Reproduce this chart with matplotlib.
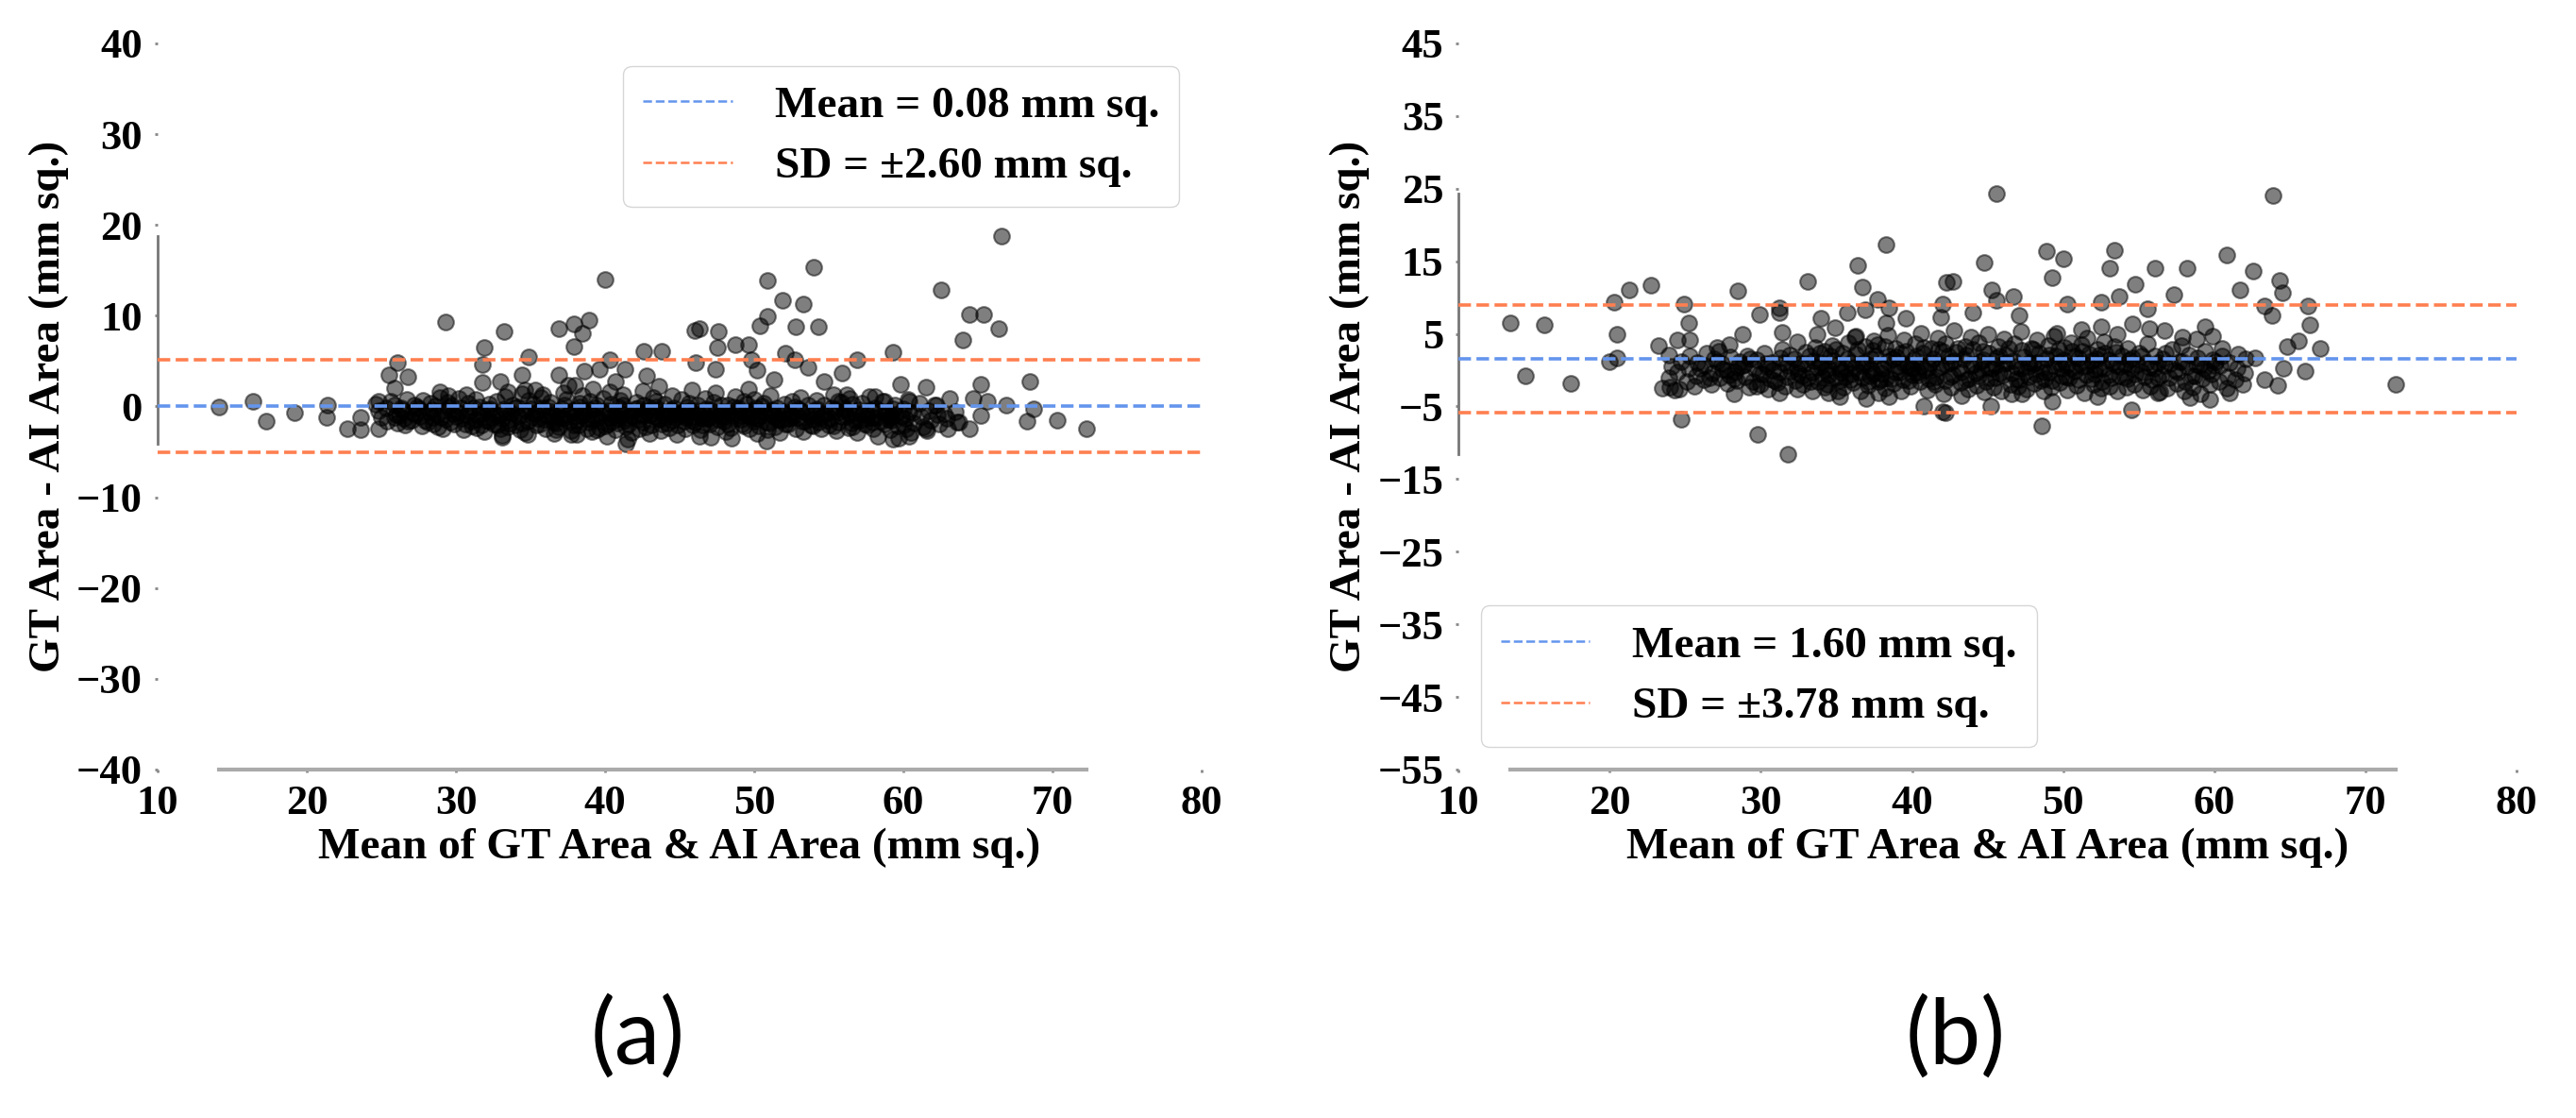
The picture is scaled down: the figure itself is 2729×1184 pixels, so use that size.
import numpy as np
import matplotlib
matplotlib.use('Agg')
import matplotlib.pyplot as plt

plt.rcParams['font.family'] = ['Liberation Serif', 'DejaVu Serif']
plt.rcParams['font.weight'] = 'bold'
plt.rcParams['axes.labelweight'] = 'bold'

# Bland-Altman summary values
mean_diff_a = 0.08
sd_a = 2.60
mean_diff_b = 1.60
sd_b = 3.78

# (a) points: (mean of areas, difference)
out_a = [(14.1, -0.1), (16.4, 0.6), (17.3, -1.6), (19.2, -0.7), (21.4, 0.1), (21.3, -1.2),
         (22.7, -2.5), (23.6, -2.6), (23.6, -1.2), (24.8, -2.5), (24.8, 0.6), (26.1, 4.8),
         (25.5, 3.5), (26.8, 3.3), (25.9, 2.0), (25.9, -1.2), (29.3, 9.3), (33.2, 8.3),
         (31.9, 6.5), (31.8, 4.6), (31.8, 2.6), (33.0, 2.8), (34.9, 5.5), (34.4, 3.5),
         (36.9, 8.6), (37.9, 9.1), (38.9, 9.5), (38.5, 8.1), (37.9, 6.6), (40.0, 14.0),
         (36.9, 3.5), (42.6, 6.1), (40.3, 5.1), (33.1, -3.4), (41.4, -4.1), (34.6, 1.8),
         (35.8, 1.3), (30.7, 1.3), (28.9, 1.6), (29.5, 1.2), (33.5, 1.6), (38.6, 3.9),
         (39.6, 4.1), (41.3, 4.1), (40.7, 2.7), (42.8, 3.4), (38.0, 2.3), (39.4, -2.6),
         (36.7, -2.6), (37.7, -3.1), (34.8, -3.1),
         (66.6, 18.8), (54.0, 15.3), (50.9, 13.9), (62.5, 12.8), (51.9, 11.7), (53.3, 11.3),
         (64.4, 10.1), (65.4, 10.1), (66.4, 8.6), (64.0, 7.3), (50.9, 9.9), (50.4, 8.9),
         (52.8, 8.8), (54.3, 8.8), (46.3, 8.6), (46.0, 8.4), (47.6, 8.3), (47.5, 6.5),
         (48.7, 6.8), (49.6, 6.8), (43.8, 6.1), (46.1, 4.8), (47.4, 4.1), (49.8, 5.1),
         (50.2, 4.0), (52.1, 5.9), (52.7, 5.1), (53.6, 4.3), (56.9, 5.1), (59.3, 6.0),
         (54.7, 2.7), (55.9, 3.7), (51.3, 3.0), (68.5, 2.8), (65.2, 2.4), (59.8, 2.4),
         (61.5, 2.1), (63.1, 0.9), (64.7, 0.9), (65.6, 0.6), (66.9, 0.2), (68.7, -0.3),
         (65.2, -1.0), (68.3, -1.6), (70.3, -1.5), (72.3, -2.4), (64.4, -2.4), (63.7, -1.7),
         (59.3, -3.6), (60.4, -3.3), (61.5, -2.4), (50.8, -3.8), (47.1, -3.4), (56.6, -2.2),
         (55.6, 0.6), (56.2, 1.3), (58.1, 1.1), (58.7, 0.6), (62.1, 0.2), (62.7, -0.8),
         (60.4, 0.6), (59.1, -1.2), (57.9, -1.7)]

core_a = [(24.8, -0.5), (24.6, 0.3), (25.0, -1.2), (25.4, -1.6), (25.3, -0.2), (25.6, 0.6),
          (26.0, -0.9), (26.1, -1.8), (25.9, 0.1), (26.5, -1.3), (26.4, -0.4), (26.7, 0.8),
          (26.6, -2.0), (27.1, -0.7), (27.0, -1.5), (27.2, 0.2), (27.6, -1.1), (27.7, -2.1),
          (27.5, -0.3), (27.8, 0.7), (28.2, -0.6), (28.1, -1.7), (28.3, 0.4), (28.4, -1.2),
          (28.7, -0.9), (28.8, -2.2), (28.6, 0.0), (28.9, 1.0), (29.3, -1.4), (29.2, -0.5),
          (29.4, 0.5), (29.1, -2.4), (29.8, -0.8), (29.9, -1.9), (29.7, 0.2), (30.0, -1.1),
          (30.4, -1.3), (30.3, -0.2), (30.5, -2.6), (30.2, 0.9), (30.9, -0.6), (31.0, -1.6),
          (30.8, 0.4), (31.1, -2.1), (31.5, -1.0), (31.4, -2.3), (31.6, -0.1), (31.3, 0.8),
          (32.0, -1.5), (32.1, -0.4), (31.9, -2.8), (32.2, 0.3), (32.6, -0.9), (32.5, -1.9),
          (32.7, 0.6), (32.4, -1.2), (33.1, -1.3), (33.2, -0.3), (33.0, -2.5), (33.3, 1.1),
          (33.1, -3.2), (33.7, -0.7), (33.6, -1.8), (33.8, 0.2), (33.5, -2.2), (34.2, -1.1),
          (34.3, -2.6), (34.1, -0.1), (34.4, 1.4), (34.8, -1.6), (34.7, -0.5), (34.9, 0.7),
          (34.6, -2.9), (35.3, -0.8), (35.4, -2.0), (35.2, 0.3), (35.5, -1.3), (35.3, 1.8),
          (35.9, -1.4), (35.8, -0.2), (36.0, -2.4), (35.7, 1.0), (36.4, -0.6), (36.5, -1.7),
          (36.3, 0.5), (36.6, -3.0), (36.4, -1.1), (37.0, -1.2), (36.9, -2.2), (37.1, -0.3),
          (37.2, 1.5), (37.5, -0.9), (37.6, -1.6), (37.4, 0.8), (37.7, -2.7), (37.5, 2.3),
          (38.1, -1.5), (38.0, -0.4), (38.2, -2.0), (38.3, 0.4), (38.1, -3.1), (38.6, -0.7),
          (38.7, -1.3), (38.5, 1.2), (38.8, -2.5), (39.2, -1.0), (39.1, -2.8), (39.3, -0.2),
          (39.0, 0.6), (39.2, 1.9), (39.7, -1.6), (39.8, -0.6), (39.6, -2.3), (39.9, 0.9),
          (40.3, -0.8), (40.2, -1.9), (40.4, 0.3), (40.1, -3.3), (40.3, 1.6), (40.8, -1.3),
          (40.9, -0.1), (40.7, -2.6), (41.0, 0.7), (40.8, -1.8), (41.4, -0.5), (41.3, -1.5),
          (41.5, -3.6), (41.2, 1.3), (41.4, -2.2), (41.9, -1.1), (42.0, -0.3), (41.8, -2.9),
          (42.1, 0.5), (42.5, -1.7), (42.4, -0.8), (42.6, 0.2), (42.3, -2.4), (42.5, 1.7),
          (43.0, -0.9), (43.1, -2.0), (42.9, -0.1), (43.2, 1.0), (43.0, -3.0), (43.6, -1.4),
          (43.5, -0.4), (43.7, -2.7), (43.4, 0.6), (43.6, 2.2), (44.1, -0.7), (44.2, -1.8),
          (44.0, 0.3), (44.3, -2.3), (44.1, -1.1), (44.7, -1.2), (44.6, -0.2), (44.8, -3.1),
          (44.5, 1.2), (45.2, -0.6), (45.3, -1.6), (45.1, 0.8), (45.4, -2.5), (45.2, -1.0),
          (45.8, -1.5), (45.7, -0.5), (45.9, -2.0), (45.6, 0.4), (45.8, 1.8), (46.3, -0.9),
          (46.4, -2.6), (46.2, 0.1), (46.5, -1.3), (46.3, -3.3), (46.9, -1.2), (46.8, -0.3),
          (47.0, -1.9), (46.7, 0.9), (47.4, -0.7), (47.5, -2.2), (47.3, 0.5), (47.6, -1.4),
          (47.4, 1.5), (48.0, -1.6), (47.9, -0.6), (48.1, -2.8), (48.2, 0.2), (48.5, -1.0),
          (48.6, -0.1), (48.4, -2.3), (48.7, 1.1), (48.5, -3.5), (49.1, -1.4), (49.0, -0.5),
          (49.2, -1.9), (49.3, 0.6), (49.6, -0.8), (49.7, -2.5), (49.5, 0.3), (49.8, -1.2),
          (49.6, 1.9), (50.2, -1.3), (50.1, -0.2), (50.3, -2.1), (50.0, 0.8), (50.2, -3.0),
          (50.7, -0.6), (50.8, -1.7), (50.6, 0.4), (50.9, -2.6), (51.3, -1.1), (51.2, -0.4),
          (51.4, -2.2), (51.1, 1.2), (51.8, -1.5), (51.9, -0.7), (51.7, -2.9), (52.0, 0.3),
          (52.4, -0.9), (52.3, -1.9), (52.5, 0.6), (52.2, -1.3), (52.9, -1.2), (53.0, -0.3),
          (52.8, -2.4), (53.1, 1.0), (53.5, -0.7), (53.4, -1.6), (53.6, 0.2), (53.3, -2.8),
          (54.0, -1.4), (54.1, -0.5), (53.9, -2.1), (54.2, 0.7), (54.6, -0.9), (54.5, -2.5),
          (54.7, 0.1), (54.4, -1.2), (55.1, -1.3), (55.2, -0.2), (55.0, -2.0), (55.3, 1.3),
          (55.7, -0.6), (55.6, -1.7), (55.8, 0.5), (55.5, -2.7), (56.2, -1.1), (56.3, -2.3),
          (56.1, -0.4), (56.4, 0.9), (56.8, -1.5), (56.7, -0.7), (56.9, -2.9), (56.6, 0.3),
          (57.3, -0.8), (57.4, -1.9), (57.2, 0.4), (57.5, -1.3), (57.9, -1.2), (57.8, -0.4),
          (58.0, -2.4), (57.7, 1.1), (58.4, -0.5), (58.5, -1.6), (58.3, -3.3), (58.6, 0.6),
          (59.0, -1.4), (58.9, -0.6), (59.1, -2.6), (59.2, -1.0), (59.5, -0.9), (59.6, -2.1),
          (59.4, 0.2), (59.7, -3.5), (60.1, -1.3), (60.0, -0.3), (60.2, -2.5), (60.3, 0.8),
          (60.6, -0.7), (60.7, -1.8), (60.5, -2.9), (61.2, -1.1), (61.1, 0.4), (61.3, -2.2),
          (61.7, -0.5), (61.8, -1.5), (61.6, -2.7), (62.3, -0.9), (62.2, 0.2), (62.4, -1.9),
          (62.9, -1.3), (63.0, -2.4), (63.5, -0.6), (63.6, -1.7)]

# the solid black band just under the mean line in (a)
dense_a = [(26.2, -1.0), (26.3, -0.2), (26.8, -1.6), (27.3, -0.9), (27.4, -0.1), (27.9, -1.5),
           (28.4, -0.4), (28.5, -1.9), (29.0, -1.2), (29.5, -0.1), (29.6, -1.7), (30.1, -0.7),
           (30.6, -1.9), (30.7, -0.9), (31.2, -0.2), (31.3, -1.4), (31.8, -0.8), (31.7, -2.0),
           (32.3, -0.3), (32.2, -1.6), (32.9, -1.0), (32.8, -2.0), (33.4, -0.6), (33.5, -1.5),
           (33.9, -0.2), (34.0, -2.0), (34.5, -0.9), (34.4, -1.8), (35.0, -0.3), (35.1, -1.2),
           (35.6, -1.9), (35.5, -0.6), (36.1, -1.0), (36.2, -0.1), (36.7, -1.8), (36.8, -0.7),
           (37.2, -1.3), (37.3, 0.2), (37.8, -0.5), (37.9, -2.0), (38.4, -1.0), (38.3, -0.1),
           (38.9, -1.7), (39.0, -0.4), (39.5, -1.2), (39.4, 0.1), (40.0, -2.1), (40.1, -0.5),
           (40.6, -1.0), (40.5, -1.6), (41.1, -0.8), (41.2, 0.2), (41.6, -1.9), (41.7, -1.0),
           (42.2, -0.2), (42.3, -1.4), (42.8, -0.5), (42.7, -2.2), (43.3, -1.1), (43.4, -0.1),
           (43.8, -1.9), (43.9, -0.9), (44.4, -0.4), (44.5, -1.5), (44.9, -2.0), (45.0, -0.8),
           (45.5, -0.1), (45.4, -1.2), (46.0, -1.7), (46.1, -0.5), (46.6, -0.9), (46.5, -2.0),
           (47.1, -0.4), (47.2, -1.5), (47.7, -1.0), (47.8, 0.1), (48.2, -1.9), (48.3, -0.7),
           (48.8, -1.3), (48.9, -0.2), (49.3, -2.1), (49.4, -0.9), (49.9, -0.5), (50.0, -1.6),
           (50.4, -1.0), (50.5, 0.0), (51.0, -1.8), (51.1, -0.8), (51.5, -0.2), (51.6, -1.4),
           (52.1, -1.9), (52.0, -0.6), (52.6, -1.1), (52.7, -0.1), (53.2, -1.6), (53.1, -0.5),
           (53.7, -1.0), (53.8, -2.0), (54.2, -0.3), (54.3, -1.7), (54.8, -0.8), (54.9, -1.5),
           (55.4, -0.4), (55.3, -2.1), (55.9, -1.1), (56.0, -0.2), (56.5, -1.8), (56.4, -0.8),
           (57.0, -0.4), (57.1, -1.5), (57.6, -2.0), (57.5, -0.9), (58.1, -0.2), (58.2, -1.2),
           (58.7, -1.9), (58.8, -0.8), (59.2, -1.5), (59.3, -0.3), (59.9, -1.1), (60.0, -2.0),
           (60.4, -0.6), (36.9, -1.2), (38.0, -1.1), (39.1, -1.4), (40.3, -1.2), (41.4, -1.2),
           (42.5, -1.0), (43.6, -1.3), (44.7, -0.9), (45.8, -1.1), (46.9, -1.3), (48.0, -1.1),
           (49.1, -1.0), (50.2, -1.2), (51.3, -1.0), (52.4, -1.3)]

# (b) points
out_b = [(13.4, 6.5), (15.7, 6.3), (14.4, -0.8), (17.4, -1.8), (20.3, 9.3), (21.3, 11.1),
         (22.7, 11.7), (20.5, 4.9), (20.5, 1.7), (20.0, 1.2), (24.9, 9.1), (25.2, 6.5),
         (24.5, 4.2), (25.3, 4.1), (23.2, 3.4), (23.9, 2.1), (23.5, -2.5), (24.3, -2.7),
         (24.7, -6.7), (28.5, 10.9), (28.2, -3.2), (29.8, -8.9), (31.8, -11.6), (29.9, 7.7),
         (31.2, 8.6), (31.2, 7.9), (28.8, 4.9), (27.1, 3.1), (27.9, 3.5), (33.1, 12.2),
         (36.4, 14.4), (38.3, 17.3), (36.7, 11.4), (37.7, 9.8), (38.5, 8.6), (36.9, 8.3),
         (35.7, 7.9), (34.0, 7.1), (34.9, 5.8), (33.7, 5.0), (31.4, 5.2), (32.4, 3.9),
         (31.2, -3.1), (35.2, -3.7), (37.0, -3.9), (38.5, -3.7), (40.8, -4.9), (42.0, -5.7),
         (42.3, 12.1), (42.0, 9.1), (41.9, 7.3), (39.6, 7.1), (38.3, 6.5), (36.3, 4.7),
         (39.9, 0.4), (37.9, -1.3), (34.5, -3.1), (32.4, -2.6), (29.7, -2.2),
         (45.6, 24.3), (63.9, 24.0), (44.8, 14.8), (48.9, 16.4), (50.0, 15.3), (49.3, 12.8),
         (53.4, 16.5), (53.1, 14.0), (56.1, 14.0), (58.2, 14.0), (60.8, 15.9), (62.6, 13.6),
         (61.7, 11.1), (64.3, 12.3), (64.5, 10.6), (42.7, 12.2), (45.3, 11.1), (45.6, 9.6),
         (46.7, 10.1), (53.7, 10.2), (54.8, 11.8), (57.3, 10.4), (52.5, 9.4), (50.3, 9.1),
         (55.6, 8.4), (63.3, 8.8), (63.8, 7.5), (66.2, 8.8), (66.3, 6.3), (67.0, 3.0),
         (65.6, 4.0), (64.8, 3.2), (66.0, -0.1), (64.6, 0.3), (64.2, -2.1), (63.3, -1.3),
         (62.7, 1.7), (72.0, -1.9), (44.0, 7.9), (47.1, 7.6), (49.6, 5.1), (51.2, 5.6),
         (52.5, 6.0), (53.6, 4.9), (54.6, 6.4), (55.7, 5.7), (56.7, 5.5), (57.9, 4.5),
         (59.4, 6.0), (59.9, 4.7), (60.5, 3.0), (58.8, 4.3), (45.2, -4.9), (48.6, -7.7),
         (54.5, -5.4), (42.2, -5.9), (59.7, -4.0), (58.4, -3.8), (61.0, -3.1), (47.3, -3.3),
         (49.3, -4.3), (52.3, -3.7), (56.3, -3.1)]

core_b = [(24.0, -2.3), (24.1, 0.5), (23.9, -1.0), (24.6, -2.6), (24.7, 1.2), (24.5, -0.3),
          (25.2, 0.2), (25.1, -1.5), (25.3, 2.0), (25.7, -0.8), (25.8, 1.0), (25.6, -2.2),
          (26.3, 0.6), (26.2, -1.3), (26.4, 2.4), (26.8, -0.4), (26.9, 1.5), (26.7, -2.0),
          (27.4, 0.9), (27.3, -1.1), (27.5, 0.1), (27.2, 2.6), (27.9, -0.6), (28.0, 1.8),
          (27.8, -1.8), (28.5, 0.4), (28.4, -1.4), (28.6, 1.2), (28.3, -0.2), (29.0, -0.9),
          (29.1, 2.0), (28.9, 0.8), (29.2, -2.3), (29.6, 0.2), (29.5, -1.6), (29.7, 1.4),
          (30.1, -0.5), (30.2, 2.3), (30.0, -2.0), (30.3, 0.9), (30.7, 1.1), (30.6, -1.2),
          (30.8, 0.0), (30.5, -2.6), (31.2, -0.3), (31.3, 1.7), (31.1, -1.7), (31.4, 2.8),
          (31.8, 0.6), (31.7, -0.9), (31.9, 2.1), (31.6, -2.2), (32.3, -1.4), (32.4, 0.2),
          (32.2, 1.5), (32.5, -0.4), (32.9, 0.9), (32.8, -2.0), (33.0, 2.5), (32.7, -0.8),
          (33.4, -0.2), (33.5, 1.3), (33.3, -1.5), (33.6, 3.1), (33.4, -2.8), (34.0, 0.5),
          (34.1, -1.1), (33.9, 2.4), (34.2, -2.3), (34.0, 1.1), (34.5, -0.6), (34.6, 1.9),
          (34.4, -1.9), (34.7, 3.4), (34.5, 0.3), (35.1, 0.8), (35.2, -1.4), (35.0, 2.8),
          (35.3, -0.3), (35.1, -2.9), (35.6, -0.9), (35.7, 1.5), (35.5, -2.4), (35.8, 3.8),
          (35.6, 0.2), (36.2, 0.4), (36.1, -1.7), (36.3, 2.2), (36.0, -0.5), (36.2, 4.5),
          (36.7, -1.1), (36.8, 1.0), (36.6, -2.8), (36.9, 3.2), (36.7, 0.6), (37.3, 0.1),
          (37.2, -0.8), (37.4, 2.7), (37.1, -2.1), (37.3, 1.6), (37.5, 4.0), (37.8, -1.5),
          (37.9, 0.7), (37.7, 3.5), (38.0, -0.4), (37.8, -3.1), (38.4, 1.2), (38.3, -1.0),
          (38.5, 2.0), (38.2, -2.5), (38.4, 4.8), (38.9, -0.3), (39.0, 1.8), (38.8, -1.8),
          (39.1, 0.5), (38.9, 3.0), (39.5, 0.9), (39.4, -1.3), (39.6, 2.6), (39.3, -2.9),
          (39.5, 4.2), (40.0, -0.7), (40.1, 1.4), (39.9, -2.2), (40.2, 3.7), (40.0, 0.2),
          (40.6, 0.6), (40.5, -1.6), (40.7, 2.3), (40.4, -0.2), (40.6, 5.1), (41.1, -1.2),
          (41.2, 1.1), (41.0, -2.7), (41.3, 3.0), (41.1, 0.4), (41.7, 0.3), (41.6, -0.9),
          (41.8, 2.8), (41.5, -2.0), (41.7, 4.4), (42.2, -1.4), (42.3, 0.8), (42.1, -3.3),
          (42.4, 1.9), (42.2, 3.6), (42.8, 1.3), (42.7, -0.6), (42.9, 2.5), (42.6, -2.4),
          (42.8, 5.5), (43.3, -0.2), (43.4, 1.6), (43.2, -1.7), (43.5, 3.3), (43.3, -3.5),
          (43.9, 0.7), (43.8, -1.2), (44.0, 2.9), (43.7, -2.6), (43.9, 4.6), (44.4, -0.8),
          (44.5, 1.2), (44.3, -2.1), (44.6, 0.1), (44.4, 3.8), (45.0, 0.4), (44.9, -1.5),
          (45.1, 2.4), (44.8, -3.0), (45.0, 5.0), (45.5, -1.0), (45.6, 1.7), (45.4, -2.3),
          (45.7, 3.2), (45.5, 0.6), (46.1, 0.9), (46.0, -0.7), (46.2, 2.1), (45.9, -2.8),
          (46.1, 4.3), (46.6, -0.4), (46.7, 1.3), (46.5, -1.9), (46.8, 3.6), (46.6, -3.3),
          (47.2, 0.2), (47.1, -1.3), (47.3, 2.7), (47.0, -2.2), (47.2, 5.3), (47.7, -0.9),
          (47.8, 1.0), (47.6, -2.6), (47.9, 3.0), (47.7, 0.5), (48.3, 1.1), (48.2, -0.5),
          (48.4, 2.3), (48.1, -1.8), (48.3, 4.1), (48.8, -0.3), (48.9, 1.6), (48.7, -2.9),
          (49.0, 3.4), (48.8, -1.2), (49.4, 0.6), (49.3, -1.4), (49.5, 2.0), (49.2, -2.4),
          (49.4, 4.7), (49.9, -0.8), (50.0, 1.4), (49.8, -1.7), (50.1, 3.1), (49.9, 0.2),
          (50.5, 0.3), (50.4, -1.1), (50.6, 2.6), (50.3, -2.7), (50.5, 3.8), (51.0, -1.3),
          (51.1, 0.9), (50.9, -2.1), (51.2, 3.5), (51.0, 1.7), (51.6, 0.7), (51.5, -0.6),
          (51.7, 2.2), (51.4, -3.1), (51.6, 4.4), (52.1, -0.5), (52.2, 1.5), (52.0, -1.9),
          (52.3, 2.9), (52.1, 0.1), (52.7, 0.2), (52.6, -1.6), (52.8, 2.4), (52.5, -2.5),
          (52.7, 3.9), (53.2, -1.0), (53.3, 1.1), (53.1, -2.2), (53.4, 3.3), (53.8, 0.5),
          (53.7, -0.8), (53.9, 1.9), (53.6, -2.8), (54.3, -1.2), (54.4, 1.4), (54.2, -2.4),
          (54.5, 0.2), (54.3, 3.0), (54.9, 0.8), (54.8, -0.5), (55.0, 2.3), (54.7, -1.9),
          (55.4, -0.9), (55.5, 1.0), (55.3, -2.7), (55.6, 3.6), (56.0, 0.3), (55.9, -1.3),
          (56.1, 2.0), (55.8, -2.2), (56.5, -0.6), (56.6, 1.6), (56.4, -3.0), (56.7, 0.6),
          (57.1, 0.9), (57.0, -1.0), (57.2, 2.8), (56.9, -2.5), (57.6, -0.3), (57.7, 1.2),
          (57.5, -1.8), (57.8, 3.4), (58.2, 0.5), (58.1, -1.5), (58.3, 2.1), (58.0, -2.9),
          (58.7, -0.8), (58.8, 0.8), (58.6, -2.3), (58.9, 1.7), (59.3, 0.2), (59.2, -1.2),
          (59.4, 2.6), (59.1, -3.2), (59.8, -0.5), (59.9, 1.4), (59.7, -2.0), (60.0, 0.7),
          (60.4, 0.6), (60.3, -1.6), (60.5, 1.9), (60.9, -0.9), (61.0, 1.0), (60.8, -2.5),
          (61.5, 0.3), (61.4, -1.3), (61.6, 2.2), (62.0, -0.4), (62.1, 1.6), (61.9, -2.0)]

# the solid black band around the mean line in (b)
dense_b = [(26.0, 0.3), (26.6, -1.0), (27.1, 1.2), (27.7, 0.0), (28.2, -1.2), (28.8, 0.6),
           (29.3, 1.6), (29.9, -0.5), (30.4, 0.5), (30.9, -1.4), (31.5, 1.0), (32.0, -0.1),
           (32.6, 0.9), (33.1, -1.0), (33.2, 1.9), (33.7, 0.4), (33.8, -1.6), (34.2, 2.6),
           (34.3, 0.0), (34.8, 1.3), (34.9, -1.0), (35.3, 0.1), (35.4, 2.3), (35.9, -1.3),
           (36.0, 1.1), (36.4, 2.9), (36.5, -0.2), (37.0, 0.8), (37.1, -1.6), (37.6, 2.0),
           (37.5, -0.5), (38.1, 0.3), (38.2, 3.3), (38.6, -1.2), (38.7, 1.5), (39.2, -0.2),
           (39.3, 2.4), (39.7, 0.7), (39.8, -1.4), (40.3, 1.9), (40.4, -0.6), (40.8, 3.1),
           (40.9, 0.0), (41.4, -1.5), (41.4, 1.6), (41.9, 0.5), (42.0, 2.6), (42.5, -0.9),
           (42.5, 1.0), (43.0, 3.0), (43.1, 0.2), (43.6, -1.3), (43.6, 2.1), (44.1, 0.8),
           (44.2, -0.4), (44.7, 2.6), (44.7, 1.4), (45.2, -1.1), (45.3, 0.3), (45.8, 2.0),
           (45.8, -0.4), (46.3, 1.1), (46.4, 3.0), (46.9, -1.2), (46.9, 0.5), (47.4, 1.8),
           (47.5, -0.3), (48.0, 0.9), (48.0, 2.8), (48.5, -1.4), (48.6, 0.4), (49.1, 2.1),
           (49.1, -0.2), (49.7, 1.1), (49.7, 2.9), (50.2, -0.9), (50.2, 0.7), (50.8, 1.9),
           (50.8, -0.1), (51.3, 0.5), (51.3, 2.6), (51.9, -1.2), (51.9, 1.3), (52.4, 0.2),
           (52.4, 2.1), (53.0, -0.6), (53.0, 1.4), (53.5, 0.6), (53.5, 2.5), (54.1, -0.9),
           (54.1, 0.8), (54.6, 1.7), (55.2, -0.2), (55.2, 2.0), (55.7, 0.4), (56.3, -1.0),
           (56.3, 1.1), (56.8, 2.4), (57.4, 0.0), (57.9, 1.2), (58.5, -0.8), (59.0, 0.7),
           (59.6, -0.1), (60.1, 1.2)]

pts_a = np.array(out_a + core_a + dense_a)
pts_b = np.array(out_b + core_b + dense_b)

fig = plt.figure(figsize=(27.29, 11.84), dpi=100)
ax1 = fig.add_axes([0.0612, 0.3117, 0.4053, 0.6495])
ax2 = fig.add_axes([0.5662, 0.3117, 0.4107, 0.6495])


def bland_altman(ax, pts, md, sd, yticks, leg_loc):
    x, y = pts[:, 0], pts[:, 1]
    ax.scatter(x, y, s=145, c='black', alpha=0.5, linewidths=1.5, zorder=2)
    ax.axhline(md, color='#6495ED', ls='--', lw=2.6, label=f'Mean = {md:.2f} mm sq.', zorder=3)
    ax.axhline(md + 1.96 * sd, color='#FF7F50', ls='--', lw=2.6,
               label=f'SD = \u00b1{sd:.2f} mm sq.', zorder=3)
    ax.axhline(md - 1.96 * sd, color='#FF7F50', ls='--', lw=2.6, zorder=3)

    ax.set_xlim(10, 80)
    ax.set_ylim(yticks[0], yticks[-1])
    ax.set_xticks(range(10, 81, 10))
    ax.set_yticks(yticks)
    ax.tick_params(labelsize=32, length=2.5, width=2, color='#888888', pad=9)

    for side in ['top', 'right']:
        ax.spines[side].set_visible(False)
    ax.spines['left'].set_bounds(y.min(), y.max())
    ax.spines['left'].set_color('#777777')
    ax.spines['left'].set_linewidth(2)
    ax.spines['bottom'].set_bounds(x.min(), x.max())
    ax.spines['bottom'].set_color('#aaaaaa')
    ax.spines['bottom'].set_linewidth(3)

    ax.set_xlabel('Mean of GT Area & AI Area (mm sq.)', fontsize=34, labelpad=4)
    ax.set_ylabel('GT Area - AI Area (mm sq.)', fontsize=34, labelpad=6)

    leg = ax.legend(loc=leg_loc, fontsize=34, handlelength=2.0, handletextpad=0.95,
                    labelspacing=0.45, borderpad=0.45)
    for ln in leg.get_lines():
        ln.set_linewidth(1.8)


bland_altman(ax1, pts_a, mean_diff_a, sd_a, list(range(-40, 41, 10)), 'upper right')
bland_altman(ax2, pts_b, mean_diff_b, sd_b, list(range(-55, 46, 10)), 'lower left')

fig.text(0.2477, 0.072, '(a)', fontsize=70, family=['Lato', 'DejaVu Sans'],
         weight='normal', ha='center', va='center')
fig.text(0.759, 0.072, '(b)', fontsize=70, family=['Lato', 'DejaVu Sans'],
         weight='normal', ha='center', va='center')

fig.savefig('out.png', dpi=100)
